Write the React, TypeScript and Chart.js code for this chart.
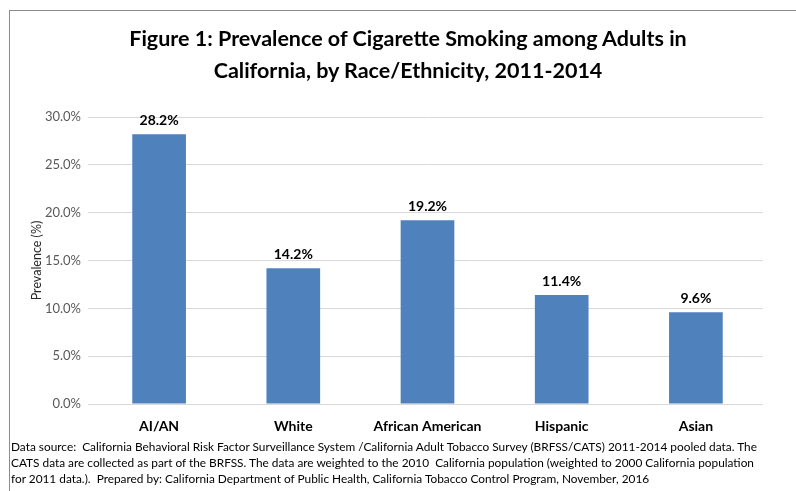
import React, { useEffect, useRef } from "react";
import { Chart, registerables } from "chart.js";

Chart.register(...registerables);

const titleLines = [
  "Figure 1: Prevalence of Cigarette Smoking among Adults in",
  "California, by Race/Ethnicity, 2011-2014",
];
const categories = ["AI/AN", "White", "African American", "Hispanic", "Asian"];
const prevalence = [28.2, 14.2, 19.2, 11.4, 9.6];
const yTicks = [0, 5, 10, 15, 20, 25, 30];
const yAxisTitle = "Prevalence (%)";
const footnoteLines = [
  "Data source:  California Behavioral Risk Factor Surveillance System /California Adult Tobacco Survey (BRFSS/CATS) 2011-2014 pooled data. The",
  "CATS data are collected as part of the BRFSS. The data are weighted to the 2010  California population (weighted to 2000 California population",
  "for 2011 data.).  Prepared by: California Department of Public Health, California Tobacco Control Program, November, 2016",
];

const FONT = "Lato, 'Noto Sans', sans-serif";

const dataLabelPlugin = {
  id: "dataLabels",
  afterDatasetsDraw(chart: any) {
    const ctx = chart.ctx;
    const meta = chart.getDatasetMeta(0);
    ctx.save();
    ctx.font = `bold 14px ${FONT}`;
    ctx.fillStyle = "#000000";
    ctx.textAlign = "center";
    ctx.textBaseline = "alphabetic";
    meta.data.forEach((bar: any, i: number) => {
      const v = chart.data.datasets[0].data[i];
      ctx.fillText(v.toFixed(1) + "%", bar.x, bar.y - 9);
    });
    ctx.restore();
  },
};

export default function App() {
  const ref = useRef<HTMLCanvasElement | null>(null);
  useEffect(() => {
    const prevMargin = document.body.style.margin;
    document.body.style.margin = "0";
    const chart = new Chart(ref.current as HTMLCanvasElement, {
      type: "bar",
      data: {
        labels: categories,
        datasets: [
          {
            data: prevalence,
            backgroundColor: "#4F81BD",
            borderWidth: 0,
            barPercentage: 0.4,
            categoryPercentage: 1,
          },
        ],
      },
      plugins: [dataLabelPlugin],
      options: {
        animation: false,
        responsive: false,
        devicePixelRatio: 1,
        layout: { padding: { left: 0, top: 117, right: 33, bottom: 0 } },
        plugins: {
          legend: { display: false },
          title: { display: false },
          tooltip: { enabled: false },
        },
        scales: {
          x: {
            grid: { display: false, drawTicks: false },
            border: { display: false },
            ticks: {
              font: { family: FONT, size: 14, weight: "bold" },
              color: "#000000",
              padding: 14,
              maxRotation: 0,
              autoSkip: false,
            },
            afterFit(scale: any) {
              scale.height = 87;
            },
          },
          y: {
            min: 0,
            max: 30,
            afterBuildTicks(scale: any) {
              scale.ticks = yTicks.map((v) => ({ value: v }));
            },
            grid: { color: "#D9D9D9", lineWidth: 1, tickLength: 4, drawTicks: true },
            border: { display: false },
            ticks: {
              font: { family: FONT, size: 13 },
              color: "#595959",
              padding: 7,
              callback: (v: any) => Number(v).toFixed(1) + "%",
            },
            title: {
              display: true,
              text: yAxisTitle,
              font: { family: FONT, size: 12.5 },
              color: "#262626",
              padding: { top: 29, bottom: 0 },
            },
            afterFit(scale: any) {
              scale.width = 92;
            },
          },
        },
      },
    });
    return () => {
      chart.destroy();
      document.body.style.margin = prevMargin;
    };
  }, []);

  return (
    <div
      style={{
        position: "relative",
        width: 796,
        height: 491,
        overflow: "hidden",
        background: "#ffffff",
        fontFamily: FONT,
      }}
    >
      <div
        style={{
          position: "absolute",
          left: 9,
          top: 10,
          width: 787,
          height: 481,
          borderTop: "1.5px solid #8c8c8c",
          borderLeft: "1.5px solid #8c8c8c",
        }}
      />
      <canvas
        ref={ref}
        width={796}
        height={491}
        style={{ position: "absolute", left: 0, top: 0, width: 796, height: 491 }}
      />
      <div
        style={{
          position: "absolute",
          left: 0,
          top: 22,
          width: 816,
          textAlign: "center",
          fontWeight: "bold",
          fontSize: 21.5,
          lineHeight: "32px",
          color: "#000",
        }}
      >
        {titleLines.map((t, i) => (
          <div key={i} style={{ whiteSpace: "nowrap" }}>{t}</div>
        ))}
      </div>
      <div
        style={{
          position: "absolute",
          left: 11,
          top: 439,
          fontSize: 11.85,
          lineHeight: "16px",
          color: "#000",
        }}
      >
        {footnoteLines.map((t, i) => (
          <div key={i} style={{ whiteSpace: "pre" }}>{t}</div>
        ))}
      </div>
    </div>
  );
}
